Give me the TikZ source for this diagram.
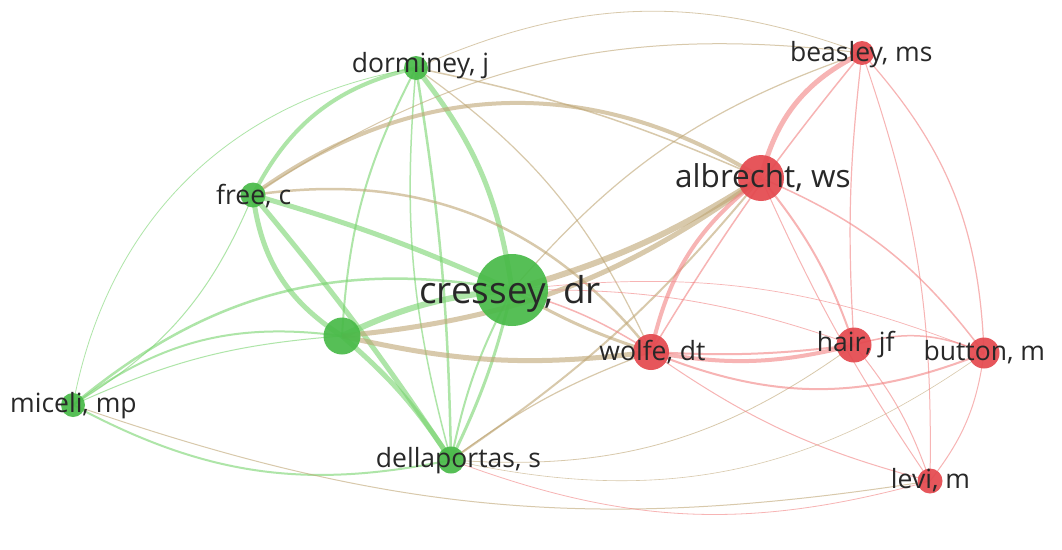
\documentclass[tikz,border=0pt]{standalone}
\usepackage{fontspec}
\setmainfont{Open Sans}
\pgfdeclarelayer{background}
\pgfdeclarelayer{paper}
\pgfsetlayers{paper,background,main}
\definecolor{nodeG}{RGB}{72,186,72}
\definecolor{nodeR}{RGB}{228,72,78}
\definecolor{edgeG}{RGB}{120,212,110}
\definecolor{edgeR}{RGB}{242,130,130}
\definecolor{edgeT}{RGB}{190,165,115}
\definecolor{labc}{RGB}{40,40,40}
\tikzset{
  gnode/.style={circle, fill=nodeG, fill opacity=0.92, inner sep=0pt, minimum size=#1},
  rnode/.style={circle, fill=nodeR, fill opacity=0.92, inner sep=0pt, minimum size=#1},
  lab/.style={text=labc, inner sep=0pt, anchor=base, font=\fontsize{26.5}{30}\selectfont},
  labM/.style={text=labc, inner sep=0pt, anchor=base, font=\fontsize{31.5}{36}\selectfont},
  labL/.style={text=labc, inner sep=0pt, anchor=base, font=\fontsize{37}{42}\selectfont},
  ge/.style={draw=edgeG, line width=#1, draw opacity=0.6},
  ge/.default=1.5,
  re/.style={draw=edgeR, line width=#1, draw opacity=0.6},
  re/.default=1.2,
  te/.style={draw=edgeT, line width=#1, draw opacity=0.6},
  te/.default=1.2
}
\begin{document}
\begin{tikzpicture}[x=1pt,y=-1pt]
\useasboundingbox (0,0) rectangle (1062,549);
\begin{pgfonlayer}{paper}
\fill[white] (0,0) rectangle (1062,549);
\end{pgfonlayer}
% nodes
\node[gnode=24pt] (dorminey) at (416,68) {};
\node[gnode=25pt] (free) at (253,195) {};
\node[gnode=72pt] (cressey) at (512,290) {};
\node[gnode=37pt] (unk) at (342,336) {};
\node[gnode=24pt] (miceli) at (73,405) {};
\node[gnode=27pt] (della) at (451,460) {};
\node[rnode=46pt] (albrecht) at (761,178) {};
\node[rnode=24pt] (beasley) at (862,53) {};
\node[rnode=36pt] (wolfe) at (651,352) {};
\node[rnode=35pt] (hair) at (854,345) {};
\node[rnode=31pt] (button) at (984,353) {};
\node[rnode=25pt] (levi) at (930,481) {};
% labels
\node[lab] (dormineyL) at (420.5,72.7) {dorminey, j};
\node[lab] (freeL) at (253.7,204) {free, c};
\node[labL] (cresseyL) at (510,303) {cressey, dr};
\node[lab] (miceliL) at (73.5,412) {miceli, mp};
\node[lab] (dellaL) at (458.5,467) {dellaportas, s};
\node[labM] (albrechtL) at (763,187) {albrecht, ws};
\node[lab] (beasleyL) at (861.3,61.7) {beasley, ms};
\node[lab] (wolfeL) at (652.5,360) {wolfe, dt};
\node[lab] (hairL) at (855.7,351) {hair, jf};
\node[lab] (buttonL) at (984.3,360) {button, m};
\node[lab] (leviL) at (930.5,488) {levi, m};
\begin{pgfonlayer}{background}
% green cluster
\draw[ge=4] (free.center) to[bend left=25] (dorminey.center);
\draw[ge=5] (dorminey.center) to[bend left=15] (cressey.center);
\draw[ge=2] (dorminey.center) to[bend right=12] (unk.center);
\draw[ge=2.5] (dorminey.center) to[bend left=4] (della.center);
\draw[ge=1.5] (dorminey.center) to[bend right=10] (della.center);
\draw[ge=5] (free.center) to[bend left=4] (cressey.center);
\draw[ge=5] (free.center) to[bend left=3] (della.center);
\draw[ge=5] (free.center) to[bend right=25] (unk.center);
\draw[ge=1] (free.center) to[bend left=18] (miceli.center);
\draw[ge=0.8] (dorminey.center) to[bend right=35] (miceli.center);
\draw[ge=2.5] (miceli.center) to[bend left=25] (cressey.center);
\draw[ge=2] (miceli.center) to[bend left=22] (unk.center);
\draw[ge=1] (miceli.center) to[bend left=10] (unk.center);
\draw[ge=2] (miceli.center) to[bend right=20] (della.center);
\draw[ge=6] (unk.center) to[bend left=10] (cressey.center);
\draw[ge=5] (unk.center) to[bend left=8] (della.center);
\draw[ge=3] (cressey.center) to[bend left=6] (della.center);
\draw[ge=2] (cressey.center) to[bend right=8] (della.center);
% mixed
\draw[te=1] (miceli.center) to[bend right=14] (levi.center);
\draw[te=4] (free.center) to[bend left=34] (albrecht.center);
\draw[te=1.5] (dorminey.center) to[bend left=6] (albrecht.center);
\draw[te=0.8] (dorminey.center) to[bend left=22] (beasley.center);
\draw[te=1] (free.center) to[bend left=20] (beasley.center);
\draw[te=6] (cressey.center) to[bend right=8] (albrecht.center);
\draw[te=5] (unk.center) to[bend right=15] (albrecht.center);
\draw[te=5] (unk.center) to[bend right=10] (wolfe.center);
\draw[te=3] (cressey.center) to[bend right=6] (wolfe.center);
\draw[te=2.5] (free.center) to[bend left=30] (wolfe.center);
\draw[te=1.2] (dorminey.center) to[bend left=15] (wolfe.center);
\draw[te=1.2] (della.center) to[bend left=8] (wolfe.center);
\draw[te=2] (della.center) to[bend right=8] (albrecht.center);
\draw[te=0.8] (della.center) to[bend right=20] (hair.center);
\draw[te=0.6] (della.center) to[bend right=24] (button.center);
\draw[re=0.8] (della.center) to[bend right=18] (levi.center);
\draw[te=1.2] (cressey.center) to[bend left=15] (beasley.center);
\draw[re=0.8] (cressey.center) to[bend left=10] (hair.center);
\draw[re=0.7] (cressey.center) to[bend left=14] (button.center);
\draw[re=1.5] (cressey.center) to[bend left=8] (wolfe.center);
% red cluster
\draw[re=5] (albrecht.center) to[bend left=25] (beasley.center);
\draw[re=1.5] (beasley.center) to[bend right=4] (wolfe.center);
\draw[re=4] (wolfe.center) to[bend left=20] (albrecht.center);
\draw[re=4] (wolfe.center) to[bend right=12] (hair.center);
\draw[re=2] (wolfe.center) to[bend right=5] (hair.center);
\draw[re=2] (wolfe.center) to[bend right=22] (button.center);
\draw[re=1] (wolfe.center) to[bend right=10] (levi.center);
\draw[re=2] (albrecht.center) to[bend left=10] (hair.center);
\draw[re=1.5] (albrecht.center) to[bend left=15] (button.center);
\draw[re=1] (albrecht.center) to[bend right=5] (levi.center);
\draw[re=1.2] (beasley.center) to[bend right=5] (hair.center);
\draw[re=1.2] (beasley.center) to[bend left=20] (button.center);
\draw[re=1] (beasley.center) to[bend left=10] (levi.center);
\draw[re=1.5] (hair.center) to[bend left=20] (button.center);
\draw[re=1] (hair.center) to[bend left=10] (levi.center);
\draw[re=1] (button.center) to[bend left=15] (levi.center);
\end{pgfonlayer}
\end{tikzpicture}
\end{document}
